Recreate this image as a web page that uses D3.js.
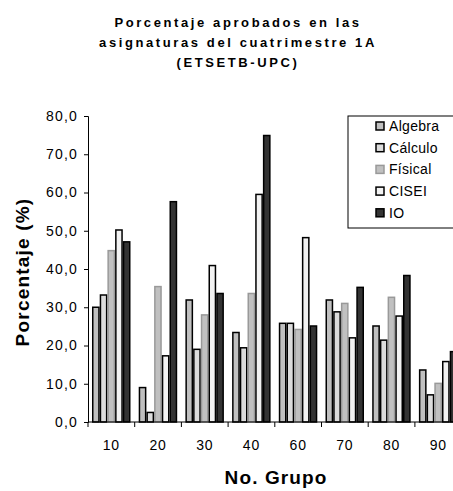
<!DOCTYPE html>
<html lang="en">
<head>
<meta charset="utf-8">
<script src="https://d3js.org/d3.v7.min.js"></script>
<style>
  body { margin: 0; background: #fff; }
  text { font-family: "Liberation Sans", Arial, sans-serif; }
</style>
</head>
<body>
<svg id="chart" width="453" height="491"></svg>
<script>
// data
const grupos = ["10", "20", "30", "40", "60", "70", "80", "90"];
const series = ["Algebra", "Cálculo", "Físical", "CISEI", "IO"];
const algebra = [30.0, 9.0, 31.9, 23.4, 25.8, 31.9, 25.1, 13.6];
const calculo = [33.2, 2.5, 19.0, 19.4, 25.8, 28.8, 21.4, 7.1];
const fisica  = [44.8, 35.4, 28.0, 33.6, 24.2, 31.0, 32.6, 10.1];
const cisei   = [50.2, 17.3, 40.9, 59.5, 48.2, 22.0, 27.7, 15.8];
const io      = [47.1, 57.6, 33.6, 74.9, 25.1, 35.2, 38.3, 18.4];
const yTicks = [0, 10, 20, 30, 40, 50, 60, 70, 80];

const values = [algebra, calculo, fisica, cisei, io];
const fills = ["#c0c0c0", "#dcdcdc", "#c0c0c0", "#f2f2f2", "#333333"];
const strokes = ["#000", "#000", "#999", "#000", "#000"];

const svg = d3.select("#chart");

const plotLeft = 88, plotTop = 116, plotBottom = 422;
const groupW = 46.7;

const x0 = d3.scaleBand()
    .domain(grupos)
    .range([plotLeft, plotLeft + groupW * grupos.length]);
const x1 = d3.scaleBand()
    .domain(series)
    .range([4, 42.5]);
const y = d3.scaleLinear()
    .domain([0, 80])
    .range([plotBottom, plotTop]);

// title
const title = ["Porcentaje aprobados en las", "asignaturas del cuatrimestre 1A", "(ETSETB-UPC)"];
svg.append("g").selectAll("text")
    .data(title)
    .join("text")
    .attr("x", 238)
    .attr("y", (d, i) => 26.5 + i * 20)
    .attr("text-anchor", "middle")
    .attr("font-size", 13)
    .attr("font-weight", "bold")
    .attr("letter-spacing", 2.6)
    .text(d => d);

// bars
const groups = svg.append("g").selectAll("g")
    .data(grupos)
    .join("g")
    .attr("transform", d => `translate(${x0(d)},0)`);

groups.selectAll("rect")
    .data((g, gi) => series.map((s, si) => ({ s, si, v: values[si][gi] })))
    .join("rect")
    .attr("x", d => x1(d.s) + 0.75)
    .attr("width", x1.bandwidth() - 1.5)
    .attr("y", d => y(d.v))
    .attr("height", d => plotBottom - y(d.v))
    .attr("fill", d => fills[d.si])
    .attr("stroke", d => strokes[d.si])
    .attr("stroke-width", 1.5);

// y axis
const yAxis = svg.append("g")
    .attr("transform", `translate(${plotLeft},0)`)
    .call(d3.axisLeft(y).tickValues(yTicks).tickSize(4).tickPadding(6)
        .tickFormat(d => d3.format(".1f")(d).replace(".", ",")));
yAxis.select(".domain").attr("stroke", "#000");
yAxis.selectAll("text")
    .attr("font-size", 14)
    .attr("letter-spacing", 1.2)
    .attr("font-family", "Liberation Sans, Arial, sans-serif");

// x axis
const xAxis = svg.append("g")
    .attr("transform", `translate(0,${plotBottom})`);
xAxis.append("line")
    .attr("x1", plotLeft).attr("x2", 453)
    .attr("y1", 0).attr("y2", 0)
    .attr("stroke", "#000");
xAxis.selectAll("line.tick")
    .data(grupos)
    .join("line")
    .attr("class", "tick")
    .attr("x1", d => x0(d)).attr("x2", d => x0(d))
    .attr("y1", 0).attr("y2", 5)
    .attr("stroke", "#000");
xAxis.selectAll("text")
    .data(grupos)
    .join("text")
    .attr("x", d => x0(d) + x0.bandwidth() / 2)
    .attr("y", 28)
    .attr("text-anchor", "middle")
    .attr("font-size", 14)
    .attr("letter-spacing", 0.8)
    .text(d => d);

// axis titles
svg.append("text")
    .attr("transform", "translate(29,272) rotate(-90)")
    .attr("text-anchor", "middle")
    .attr("font-size", 19)
    .attr("font-weight", "bold")
    .attr("letter-spacing", 1.2)
    .text("Porcentaje (%)");

svg.append("text")
    .attr("x", 276)
    .attr("y", 484)
    .attr("text-anchor", "middle")
    .attr("font-size", 19)
    .attr("font-weight", "bold")
    .attr("letter-spacing", 1.1)
    .text("No. Grupo");

// legend
const legend = svg.append("g").attr("transform", "translate(348,116)");
legend.append("rect")
    .attr("width", 110).attr("height", 112)
    .attr("fill", "#fff").attr("stroke", "#000");
const items = legend.selectAll("g.item")
    .data(series)
    .join("g")
    .attr("class", "item")
    .attr("transform", (d, i) => `translate(28,${10 + i * 21.7})`);
items.append("rect")
    .attr("x", 0).attr("y", -4)
    .attr("width", 8).attr("height", 8)
    .attr("fill", (d, i) => fills[i])
    .attr("stroke", (d, i) => strokes[i])
    .attr("stroke-width", 1.5);
items.append("text")
    .attr("x", 13)
    .attr("y", 5)
    .attr("font-size", 14)
    .attr("letter-spacing", 0.3)
    .text(d => d);
</script>
</body>
</html>
